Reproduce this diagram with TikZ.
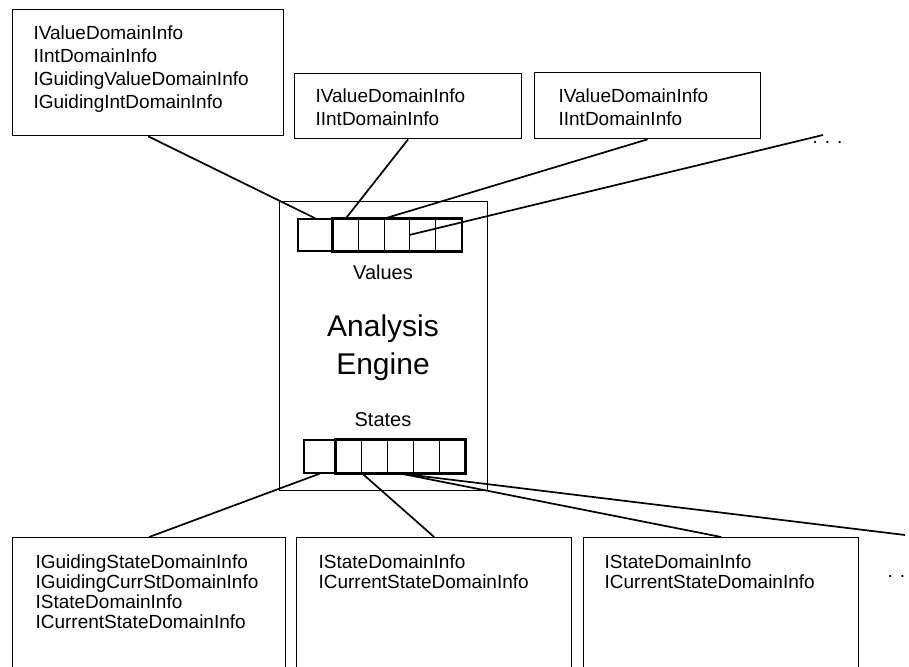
\documentclass[tikz,border=0pt]{standalone}
\usepackage{fontspec}
\setmainfont{Liberation Sans}
\usetikzlibrary{positioning}

\begin{document}
\begin{tikzpicture}[x=1pt,y=-1pt,line width=1.2pt,
  infobox/.style={draw,rectangle,anchor=north west,inner sep=0pt,line width=1.3pt},
  infotext/.style={anchor=north west,align=left,inner sep=0pt,font=\fontsize{19}{23}\selectfont},
  lowtext/.style={infotext,font=\fontsize{19}{20}\selectfont},
  cell/.style={draw,rectangle,inner sep=0pt,minimum width=25.7pt,minimum height=32pt,line width=1.1pt},
  link/.style={line width=1.7pt}]
\useasboundingbox (0,0) rectangle (909,666);
% ---- analysis engine ----
\node[draw,rectangle,anchor=north west,inner sep=0pt,minimum width=208pt,minimum height=289pt]
  (engine) at (279,201) {};
\node[font=\fontsize{20}{24}\selectfont] (values) at (383,272) {Values};
\node[font=\fontsize{30}{38}\selectfont,align=center] (title) at (383,348) {Analysis\\Engine};
\node[font=\fontsize{20}{24}\selectfont] (states) at (383,420) {States};
% value cells
\node[cell,minimum width=35pt] (v0) at (315.5,235) {};
\foreach \i in {1,...,5}
  \node[cell] (v\i) at ({333+25.6*(\i-0.5)},235) {};
\draw[line width=2.2pt] (v1.north west) rectangle (v5.south east);
% state cells
\node[cell,minimum width=32pt,minimum height=33pt] (s0) at (320,456.5) {};
\foreach \i in {1,...,5}
  \node[cell,minimum height=33pt] (s\i) at ({336+25.8*(\i-0.5)},456.5) {};
\draw[line width=2.2pt] (s1.north west) rectangle (s5.south east);
% ---- value domain boxes (top) ----
\node[infobox,minimum width=271pt,minimum height=126pt] (vbox1) at (12,9) {};
\node[infotext] (vtext1) [below right=16pt and 21pt of vbox1.north west]
  {IValueDomainInfo\\IIntDomainInfo\\IGuidingValueDomainInfo\\IGuidingIntDomainInfo};
\node[infobox,minimum width=227pt,minimum height=65pt] (vbox2) at (294,73) {};
\node[infotext] (vtext2) [below right=15pt and 21pt of vbox2.north west]
  {IValueDomainInfo\\IIntDomainInfo};
\node[infobox,minimum width=226pt,minimum height=66pt] (vbox3) at (534,72) {};
\node[infotext] (vtext3) [below right=16pt and 24pt of vbox3.north west]
  {IValueDomainInfo\\IIntDomainInfo};
\node[anchor=base west,inner sep=0pt,font=\fontsize{19}{23}\selectfont] (vdots) at (812,143) {. . .};
\coordinate (vmore) at (823,135);
% ---- state domain boxes (bottom) ----
\node[infobox,minimum width=273pt,minimum height=135pt] (sbox1) at (12,537) {};
\node[lowtext] (stext1) [below right=17pt and 23pt of sbox1.north west]
  {IGuidingStateDomainInfo\\IGuidingCurrStDomainInfo\\IStateDomainInfo\\ICurrentStateDomainInfo};
\node[infobox,minimum width=275pt,minimum height=135pt] (sbox2) at (296,537) {};
\node[lowtext] (stext2) [below right=17pt and 22pt of sbox2.north west]
  {IStateDomainInfo\\ICurrentStateDomainInfo};
\node[infobox,minimum width=275pt,minimum height=135pt] (sbox3) at (583,537) {};
\node[lowtext] (stext3) [below right=17pt and 21pt of sbox3.north west]
  {IStateDomainInfo\\ICurrentStateDomainInfo};
\node[anchor=base west,inner sep=0pt,font=\fontsize{19}{23}\selectfont] (sdots) at (887,577) {. .};
\coordinate (smore) at (905,535);
% ---- connectors ----
\draw[link] (vbox1.south) -- (v0.north);
\draw[link] (vbox2.south) -- (v1.north);
\draw[link] (vbox3.south) -- (v2.north east);
\draw[link] (vmore) -- (v4.west);
\draw[link] (s0.south) -- (sbox1.north);
\draw[link] (s1.south east) -- (sbox2.north);
\draw[link] (s3.south) -- (sbox3.north);
\draw[link] (s3.south) -- (smore);
\end{tikzpicture}
\end{document}
